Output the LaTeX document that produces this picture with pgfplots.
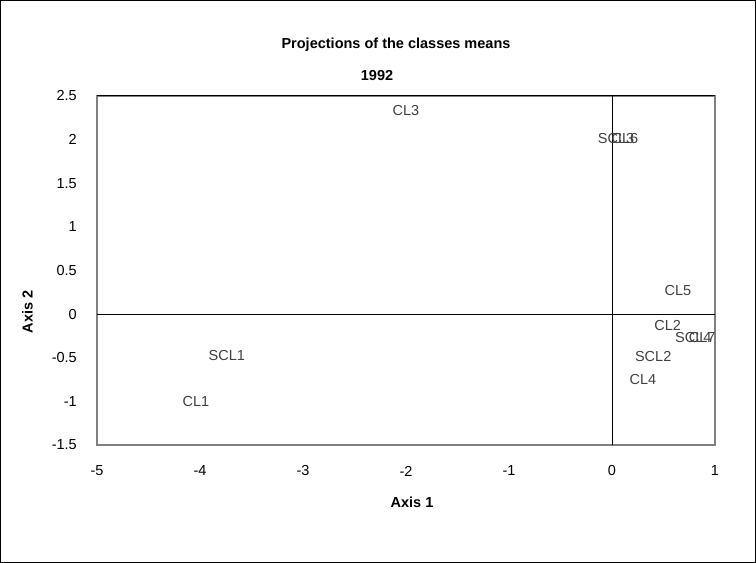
\documentclass[border=0pt]{standalone}
\usepackage{pgfplots}
\pgfplotsset{compat=1.18}
\usepackage{fontspec}
\setmainfont{Liberation Sans}

\newcommand{\chartfont}{\fontsize{14.5bp}{17bp}\selectfont}

\begin{document}
\begin{tikzpicture}
\useasboundingbox (0,0) rectangle (756bp,563bp);
\draw[black, line width=1bp] (0.5bp,0.5bp) rectangle (755.5bp,562.5bp);

\begin{axis}[
    at={(97bp,118bp)}, anchor=south west,
    scale only axis,
    width=618bp, height=349bp,
    xmin=-5, xmax=1, ymin=-1.5, ymax=2.5,
    xtick={-5,-4,-3,-2,-1,0,1},
    xticklabels={-5,-4,-3,-2,-1,0,1},
    ytick={-1.5,-1,-0.5,0,0.5,1,1.5,2,2.5},
    yticklabels={-1.5,-1,-0.5,0,0.5,1,1.5,2,2.5},
    major tick length=0pt,
    axis line style={draw=gray, line width=1.2bp},
    tick label style={font=\chartfont, inner sep=0pt},
    xticklabel style={anchor=center, yshift=-26bp},
    yticklabel style={anchor=east, xshift=-20bp},
    clip=false,
]
% zero reference lines
\addplot[black, line width=0.9bp] coordinates {(0,-1.5) (0,2.5)};
\addplot[black, line width=0.9bp] coordinates {(-5,0) (1,0)};
\addplot[black, line width=1bp] coordinates {(-5,2.5) (1,2.5)};

% class means, labels only
\addplot[draw=none, mark=none, nodes near coords, point meta=explicit symbolic,
    every node near coord/.append style={anchor=center, font=\chartfont, inner sep=0pt, text=black!75}]
    table[meta=lab, row sep=\\] {
    x     y     lab \\
    -4.04 -1.00 CL1 \\
    0.54  -0.13 CL2 \\
    -2.00 2.33  CL3 \\
    0.30  -0.75 CL4 \\
    0.64  0.27  CL5 \\
    0.125 2.01  CL6 \\
    0.875 -0.27 CL7 \\
    -3.74 -0.48 SCL1 \\
    0.40  -0.49 SCL2 \\
    0.04  2.01  SCL3 \\
    0.79  -0.27 SCL4 \\
};
\end{axis}

\node[font=\bfseries\chartfont] at (396bp,518bp) {Projections of the classes means};
\node[font=\bfseries\chartfont] at (377bp,487bp) {1992};
\node[font=\bfseries\chartfont] at (412bp,61bp) {Axis 1};
\node[font=\bfseries\chartfont, rotate=90] at (27.5bp,251bp) {Axis 2};
\end{tikzpicture}
\end{document}
